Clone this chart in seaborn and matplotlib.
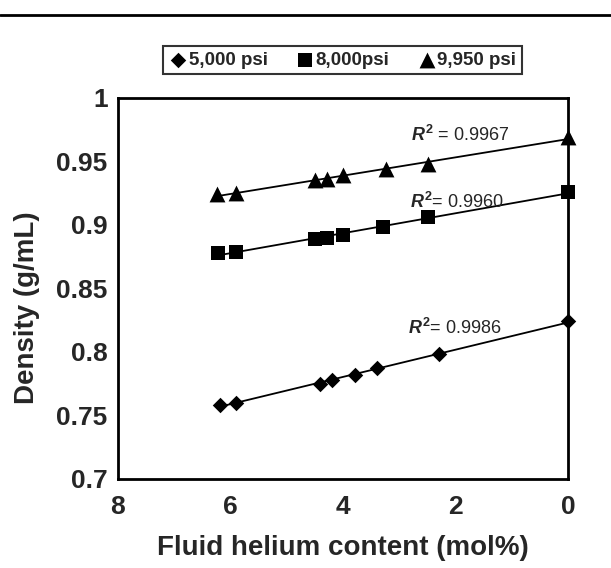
import numpy as np
import pandas as pd
import matplotlib
matplotlib.use("Agg")
import matplotlib.pyplot as plt
from matplotlib.lines import Line2D
import seaborn as sns

sns.set_style("white")
plt.rcParams['font.family'] = ['Liberation Sans', 'DejaVu Sans']
plt.rcParams['font.weight'] = 'bold'
plt.rcParams['mathtext.fontset'] = 'custom'
plt.rcParams['mathtext.it'] = 'Liberation Sans:italic:bold'
plt.rcParams['mathtext.rm'] = 'Liberation Sans'

# helium content (mol%) and density (g/mL)
he_5000 = [6.19, 5.90, 4.40, 4.19, 3.79, 3.39, 2.29, 0.0]
rho_5000 = [0.758, 0.760, 0.775, 0.778, 0.782, 0.787, 0.798, 0.824]
he_8000 = [6.22, 5.90, 4.50, 4.29, 4.00, 3.29, 2.49, 0.0]
rho_8000 = [0.878, 0.879, 0.889, 0.890, 0.892, 0.898, 0.906, 0.926]
he_9950 = [6.24, 5.91, 4.50, 4.29, 4.00, 3.24, 2.49, 0.0]
rho_9950 = [0.924, 0.925, 0.935, 0.936, 0.939, 0.944, 0.948, 0.969]

series_names = ['5,000 psi', '8,000psi', '9,950 psi']
r2_labels = ['0.9986', '0.9960', '0.9967']
r2_eq = ['= ', '= ', ' = ']
r2_pos = [(2.84, 0.819), (2.81, 0.918), (2.79, 0.971)]

x_ticks = [8, 6, 4, 2, 0]
y_ticks = [0.7, 0.75, 0.8, 0.85, 0.9, 0.95, 1.0]
y_tick_labels = ['0.7', '0.75', '0.8', '0.85', '0.9', '0.95', '1']

df = pd.DataFrame({
    'he': he_5000 + he_8000 + he_9950,
    'rho': rho_5000 + rho_8000 + rho_9950,
    'series': [series_names[0]] * 8 + [series_names[1]] * 8 + [series_names[2]] * 8,
})

fig = plt.figure(figsize=(6.11, 5.68), dpi=100)
ax = fig.add_axes([0.193, 0.157, 0.7366, 0.6705])

markers = ['D', 's', '^']
sizes = [62, 100, 130]
for name, mk, sz in zip(series_names, markers, sizes):
    sub = df[df['series'] == name]
    sns.regplot(data=sub, x='he', y='rho', ax=ax, ci=None, marker=mk,
                label=name, truncate=True,
                scatter_kws={'s': sz, 'color': 'black', 'linewidths': 0,
                             'alpha': 1, 'zorder': 3, 'clip_on': False},
                line_kws={'color': 'black', 'linewidth': 1.3, 'zorder': 2})

for (xp, yp), eq, lab in zip(r2_pos, r2_eq, r2_labels):
    ax.text(xp, yp, r'$R^{\mathrm{2}}$' + eq + lab, fontsize=13,
            fontweight='normal', ha='left', va='center')

ax.set_xlim(8, 0)
ax.set_ylim(0.7, 1.0)
ax.set_xticks(x_ticks)
ax.set_xticklabels([str(t) for t in x_ticks])
ax.set_yticks(y_ticks)
ax.set_yticklabels(y_tick_labels)
ax.tick_params(axis='both', direction='inout', length=13, width=2,
               labelsize=19, color='black')
ax.tick_params(axis='x', pad=5)
ax.tick_params(axis='y', pad=1)
for sp in ax.spines.values():
    sp.set_visible(True)
    sp.set_linewidth(2)
    sp.set_color('black')

ax.set_xlabel('Fluid helium content (mol%)', fontsize=20, fontweight='bold',
              labelpad=12)
ax.set_ylabel('Density (g/mL)', fontsize=20, fontweight='bold')
ax.yaxis.set_label_coords(-0.174, 0.449)

leg = ax.legend(loc='center', bbox_to_anchor=(0.5606, 0.894),
                bbox_transform=fig.transFigure, ncol=3, frameon=True,
                fancybox=False, edgecolor='black', fontsize=13.5,
                handletextpad=0.05, columnspacing=1.5, handlelength=1.0,
                borderpad=0.3, borderaxespad=0, markerscale=1.0)
leg.get_frame().set_linewidth(1.5)
for t in leg.get_texts():
    t.set_fontweight('bold')

fig.add_artist(Line2D([0, 1], [0.974, 0.974], transform=fig.transFigure,
                      color='black', linewidth=2))

fig.savefig('out.png', dpi=100)
